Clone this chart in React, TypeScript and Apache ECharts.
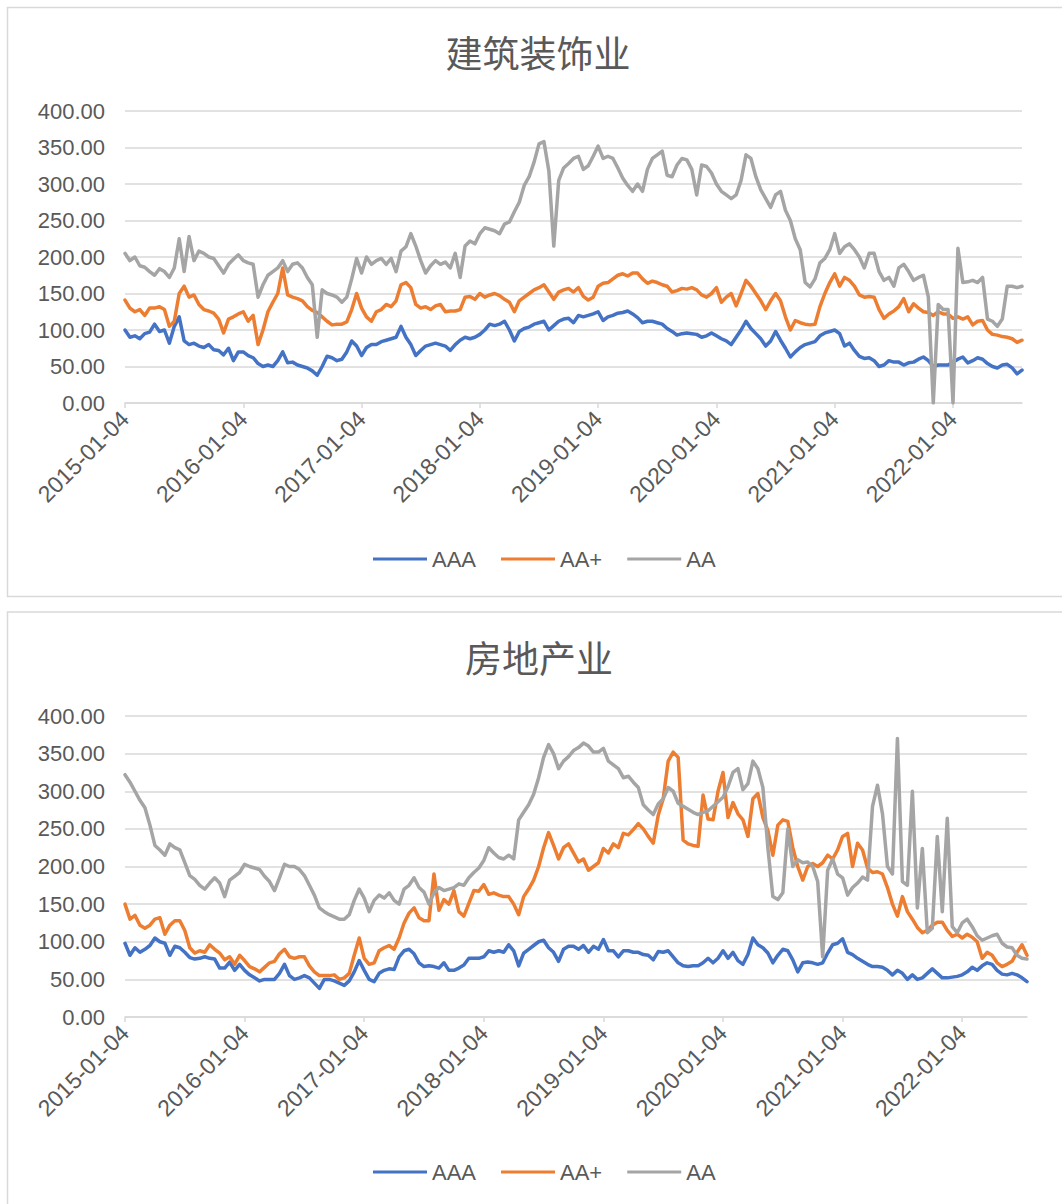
import React, { useEffect, useRef } from 'react';
import * as echarts from 'echarts';

// ---------- data ----------
const topTitle = '建筑装饰业';
const bottomTitle = '房地产业';
const seriesNames = ['AAA', 'AA+', 'AA'];
const seriesColors = ['#4472C4', '#ED7D31', '#A5A5A5'];
const yTickValues = [0, 50, 100, 150, 200, 250, 300, 350, 400];
const startYear = 2015;

// semi-monthly observation dates (04 and 19 of each month)
function buildDates(n: number): string[] {
  const out: string[] = [];
  for (let i = 0; i < n; i++) {
    const y = startYear + Math.floor(i / 24);
    const m = Math.floor((i % 24) / 2) + 1;
    const d = i % 2 === 0 ? '04' : '19';
    out.push(`${y}-${String(m).padStart(2, '0')}-${d}`);
  }
  return out;
}

// 建筑装饰业
const topAAA = [
  100, 90, 92, 88, 95, 97, 108, 98, 100, 82,
  105, 118, 85, 80, 82, 78, 76, 80, 73, 72,
  66, 75, 58, 70, 70, 65, 62, 54, 50, 52,
  50, 58, 70, 55, 56, 52, 50, 48, 44, 38,
  50, 64, 62, 58, 60, 70, 85, 78, 65, 76,
  80, 80, 84, 86, 88, 90, 105, 90, 80, 65,
  72, 78, 80, 82, 80, 78, 72, 80, 86, 90,
  88, 90, 94, 100, 108, 106, 108, 112, 100, 85,
  98, 102, 104, 108, 110, 112, 100, 106, 112, 115,
  116, 110, 120,
  118, 120, 122, 125, 113, 118, 120,
  123, 124, 126, 122, 117, 110, 112, 112, 110, 108,
  102, 98, 93, 95, 96, 95, 94, 90, 92, 96,
  92, 88, 85, 80, 90, 100, 112, 102, 95, 88,
  78, 85, 98, 86, 75, 63, 70, 76, 80, 82,
  84, 92, 96, 98, 100, 95, 78, 82, 72, 64,
  61, 62, 58, 50, 52, 58, 56, 56, 52, 55,
  56, 60, 63, 58, 50, 52, 52, 52, 56, 60,
  63, 55, 58, 62, 60, 54, 50, 48, 52, 53,
  48, 40, 45,
];
const topAAPlus = [
  141, 130, 125, 128, 120, 130, 130, 132, 128, 105,
  112, 150, 160, 145, 148, 135, 128, 126, 123, 115,
  96, 115, 118, 122, 125, 112, 120, 80, 100, 125,
  138, 150, 185, 148, 145, 143, 140, 132, 127, 124,
  118, 112, 107, 108, 108, 111, 128, 150, 130, 118,
  112, 125, 128, 135, 132, 140, 162, 165, 158, 135,
  130, 132, 128, 133, 135, 125, 126, 126, 128, 145,
  146, 142, 150, 145, 148, 150, 147, 142, 138, 125,
  140, 145, 150, 155, 158, 162, 152, 142, 152, 155,
  157, 152, 158,
  146, 141, 145, 160, 164, 165, 170,
  175, 177, 174, 178, 178, 170, 164, 167, 165, 162,
  160, 152, 154, 157, 156, 158, 155, 148, 145, 150,
  158, 138, 145, 150, 133, 150, 168, 160, 150, 140,
  128, 140, 150, 140, 118, 100, 113, 110, 108, 107,
  108, 132, 150, 165, 177, 160, 172, 168, 160, 148,
  145, 146, 145, 128, 116, 122, 126, 132, 143, 125,
  136, 130, 125, 124, 120, 125, 122, 122, 116, 118,
  115, 118, 107, 112, 113, 100, 94, 93, 91, 90,
  88, 83, 86,
];
const topAA = [
  205, 195, 200, 188, 186, 180, 175, 184, 180, 172,
  185, 225, 180, 228, 195, 208, 205, 200, 198, 188,
  178, 190, 197, 203, 195, 192, 190, 145, 162, 175,
  180, 185, 195, 180, 190, 192, 185, 172, 162, 90,
  155, 150, 148, 145, 138, 145, 170, 198, 178, 200,
  190, 195, 198, 190, 198, 180, 208, 214, 232, 215,
  195, 178, 188, 195, 190, 193, 185, 205, 172, 215,
  222, 218, 232, 240, 238, 236, 232, 245, 248, 262,
  275, 298, 310, 330, 355, 358, 318, 215, 305, 322,
  328, 335, 338,
  320, 325, 338, 352, 335, 338, 335,
  322, 308, 298, 290, 300, 290, 320, 335, 340, 345,
  312, 310, 326, 335, 333, 320, 285, 326, 324, 315,
  300, 290, 285, 280, 285, 305, 340, 335, 310, 292,
  280, 268, 285, 290, 264, 250, 225, 210, 165, 159,
  170, 192, 198, 210, 232, 205, 214, 218, 210, 200,
  185, 205, 205, 180, 168, 172, 160, 185, 190, 180,
  168, 172, 175, 145, 0, 135, 128, 128, 0, 212,
  165, 166, 168, 165, 172, 115, 112, 105, 115, 160,
  160, 158, 160,
];

// 房地产业
const bottomAAA = [
  98, 82, 92, 86, 90, 95, 105, 100, 98, 82,
  94, 92, 86, 79, 77, 78, 80, 78, 77, 65,
  65, 73, 62, 70, 62, 56, 52, 48, 50, 50,
  50, 58, 70, 55, 50, 52, 55, 52, 45, 38,
  50, 50, 48, 45, 42, 48, 60, 75, 62, 50,
  47, 58, 62, 64, 63, 80, 88, 90, 84, 72,
  67, 68, 67, 65, 72, 62, 62, 65, 69, 78,
  78, 78, 80, 88, 86, 88, 86, 96, 88, 68,
  85, 90, 95, 100, 102, 92, 86, 74, 90, 94,
  94, 90,
  95, 86, 94, 90, 103, 88, 88, 80,
  88, 88, 86, 86, 83, 82, 76, 87, 86, 88,
  80, 72, 68, 67, 68, 68, 72, 78, 72, 78,
  88, 78, 86, 75, 70, 83, 105, 96, 92, 85,
  72, 82, 90, 88, 76, 60, 72, 73, 72, 70,
  72, 85, 96, 98, 104, 86, 83, 78, 74, 70,
  67, 67, 66, 62, 56, 62, 58, 50, 56, 50,
  52, 58, 64, 58, 52, 52, 53, 54, 56, 60,
  66, 62, 68, 72, 70, 62, 57, 56, 58, 56,
  52, 47,
];
const bottomAAPlus = [
  150, 130, 135, 122, 118, 122, 130, 132, 110, 122,
  128, 128, 115, 92, 85, 88, 86, 96, 90, 85,
  76, 80, 70, 82, 75, 67, 64, 60, 66, 72,
  74, 84, 90, 80, 78, 80, 80, 68, 60, 55,
  55, 55, 56, 50, 52, 58, 82, 105, 78, 70,
  72, 88, 92, 95, 90, 105, 125, 138, 145, 132,
  128, 128, 190, 142, 156, 150, 168, 140, 134, 151,
  168, 167, 176, 163, 165, 162, 160, 160, 150, 136,
  160, 170, 182, 200, 225, 245, 228, 210, 225, 230,
  218, 206,
  210, 195, 200, 205, 224, 218, 230, 225,
  244, 242, 249, 257, 250, 240, 231, 268, 290, 340,
  352, 345, 235, 230, 228, 227, 295, 263, 262, 300,
  325, 265, 285, 270, 262, 240, 290, 297, 265, 248,
  215, 255, 262, 260, 225, 200, 182, 200, 204, 200,
  205, 215, 210, 222, 240, 244, 200, 231, 222, 198,
  192, 193, 190, 172, 150, 134, 160, 140, 130, 119,
  112, 115, 122, 126, 126, 115, 107, 110, 105, 110,
  106, 100, 78, 86, 82, 72, 67, 70, 74, 86,
  96, 82,
];
const bottomAA = [
  322, 312, 300, 288, 278, 255, 228, 222, 215, 230,
  225, 222, 205, 188, 183, 175, 170, 178, 185, 178,
  160, 182, 187, 192, 203, 200, 198, 196, 187, 180,
  168, 185, 203, 200, 200, 196, 188, 175, 162, 145,
  140, 136, 133, 130, 130, 136, 155, 170, 158, 140,
  155, 162, 158, 165, 155, 150, 170, 175, 185, 172,
  166, 150, 165, 172, 168, 170, 172, 177, 175, 185,
  192, 198, 208, 225, 218, 212, 210, 215, 210, 262,
  272, 282, 296, 318, 345, 362, 350, 330, 340, 346,
  354, 358,
  364, 360, 352, 352, 357, 340, 335, 330,
  318, 320, 312, 305, 282, 275, 269, 283, 290, 305,
  300, 284, 280, 276, 272, 269, 272, 274, 280, 286,
  292, 306, 325, 330, 302, 310, 340, 330, 305, 225,
  160, 156, 165, 250, 200, 209, 205, 206, 200, 180,
  80, 195, 210, 190, 185, 162, 172, 178, 186, 182,
  280, 308, 270, 200, 190, 370, 180, 175, 300, 145,
  224, 112, 118, 240, 140, 264, 120, 112, 125, 130,
  120, 108, 102, 105, 108, 110, 98, 93, 92, 82,
  78, 77,
];

const topDates = buildDates(topAAA.length);
const bottomDates = buildDates(bottomAAA.length);

// ---------- styling ----------
const textColor = '#595959';
const gridColor = '#d9d9d9';
const latinFont = '"Liberation Sans", Arial, sans-serif';
const cjkFont = '"Noto Sans CJK SC", sans-serif';

function xAxisFor(gridIndex: number, dates: string[]) {
  return {
    type: 'category',
    gridIndex,
    data: dates,
    boundaryGap: false,
    axisLine: { lineStyle: { color: gridColor, width: 1.5 } },
    axisTick: {
      show: true,
      length: 5,
      interval: (idx: number) => idx % 24 === 0,
      lineStyle: { color: gridColor, width: 1.5 },
    },
    axisLabel: {
      interval: (idx: number) => idx % 24 === 0,
      rotate: 45,
      margin: 12,
      fontSize: 23,
      color: textColor,
      fontFamily: latinFont,
    },
    splitLine: { show: false },
  };
}

function yAxisFor(gridIndex: number) {
  return {
    type: 'value',
    gridIndex,
    min: yTickValues[0],
    max: yTickValues[yTickValues.length - 1],
    interval: yTickValues[1] - yTickValues[0],
    axisLine: { show: false },
    axisTick: { show: false },
    axisLabel: {
      margin: 20,
      fontSize: 22,
      color: textColor,
      fontFamily: latinFont,
      formatter: (v: number) => v.toFixed(2),
    },
    splitLine: { lineStyle: { color: gridColor, width: 1.5 } },
  };
}

function seriesFor(idx: number, values: number[][]) {
  return values.map((vals, k) => ({
    name: seriesNames[k],
    type: 'line',
    xAxisIndex: idx,
    yAxisIndex: idx,
    data: vals,
    showSymbol: false,
    symbol: 'none',
    lineStyle: { width: 3.5, color: seriesColors[k], join: 'round', cap: 'round' },
    itemStyle: { color: seriesColors[k] },
    emphasis: { disabled: true },
  }));
}

function legendFor(top: number) {
  return {
    data: seriesNames,
    left: 373,
    top,
    padding: 0,
    icon: 'rect',
    itemWidth: 54,
    itemHeight: 3,
    itemGap: 25,
    selectedMode: false,
    textStyle: { fontSize: 22, color: textColor, fontFamily: latinFont },
  };
}

export default function App() {
  const ref = useRef<HTMLDivElement>(null);
  useEffect(() => {
    if (!ref.current) return;
    const chart = echarts.init(ref.current, null, { renderer: 'svg' });
    chart.setOption({
      animation: false,
      backgroundColor: '#ffffff',
      color: seriesColors,
      grid: [
        { left: 125, top: 111, width: 897, height: 292, containLabel: false },
        { left: 125, top: 716, width: 902, height: 301, containLabel: false },
      ],
      xAxis: [xAxisFor(0, topDates), xAxisFor(1, bottomDates)],
      yAxis: [yAxisFor(0), yAxisFor(1)],
      legend: [legendFor(548), legendFor(1161)],
      series: [
        ...seriesFor(0, [topAAA, topAAPlus, topAA]),
        ...seriesFor(1, [bottomAAA, bottomAAPlus, bottomAA]),
      ],
      graphic: [
        {
          type: 'rect',
          silent: true,
          shape: { x: 7.5, y: 7.5, width: 1100, height: 589 },
          style: { fill: 'none', stroke: gridColor, lineWidth: 1.5 },
        },
        {
          type: 'rect',
          silent: true,
          shape: { x: 7.5, y: 612, width: 1100, height: 700 },
          style: { fill: 'none', stroke: gridColor, lineWidth: 1.5 },
        },
        {
          type: 'text',
          x: 538,
          y: 52,
          style: {
            text: topTitle,
            fontSize: 37,
            fill: textColor,
            fontFamily: cjkFont,
            align: 'center',
            verticalAlign: 'middle',
          },
        },
        {
          type: 'text',
          x: 539,
          y: 657,
          style: {
            text: bottomTitle,
            fontSize: 37,
            fill: textColor,
            fontFamily: cjkFont,
            align: 'center',
            verticalAlign: 'middle',
          },
        },
      ],
    });
    return () => chart.dispose();
  }, []);
  return (
    <div
      ref={ref}
      style={{ position: 'absolute', left: 0, top: 0, width: 1062, height: 1204, background: '#fff' }}
    />
  );
}
